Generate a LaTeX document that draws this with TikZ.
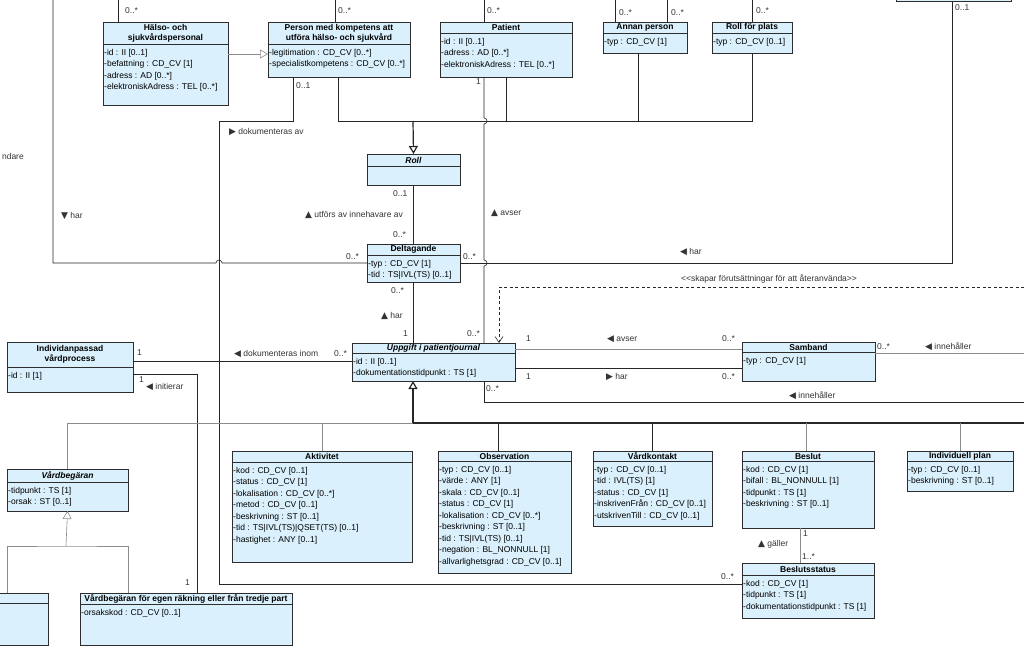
\documentclass[tikz,border=0pt]{standalone}
\usepackage{fontspec}
\setmainfont{Liberation Sans}
\newfontfamily\symf{DejaVu Sans}
\usetikzlibrary{arrows.meta}

\definecolor{klassfill}{RGB}{218,240,252}
\definecolor{klassline}{RGB}{45,45,45}

\newcommand\triL{{\symf\fontsize{9}{9}\selectfont ◀}}
\newcommand\triR{{\symf\fontsize{9}{9}\selectfont ▶}}
\newcommand\triU{{\symf\fontsize{9}{9}\selectfont ▲}}
\newcommand\triD{{\symf\fontsize{9}{9}\selectfont ▼}}

\begin{document}
\begin{tikzpicture}[x=1pt,y=-1pt,font=\fontsize{8.5}{11.5}\selectfont]
\tikzset{
  box/.style={draw=klassline,fill=klassfill,line width=0.7pt,inner sep=0pt,outer sep=0pt,anchor=north west},
  head/.style={font=\fontsize{8.5}{10}\selectfont\bfseries,align=center,inner sep=0pt},
  attr/.style={anchor=north west,align=left,inner xsep=1pt,inner ysep=5pt},
  lbl/.style={text=black!80,inner sep=0pt,anchor=west},
  assoc/.style={draw=black!85,line width=0.6pt},
  assocg/.style={draw=black!45,line width=0.6pt},
  gen/.style={-{Triangle[open,length=8pt,width=9pt,fill=white]}},
  dep/.style={assoc,dash pattern=on 3pt off 2.5pt,-{Straight Barb[length=6pt,width=8pt]}},
}
\newcommand\klass[8]{
  \node[box,minimum width=#4pt,minimum height=#6pt] (#1) at (#2,#3) {};
  \draw[klassline,line width=0.6pt] ([yshift=-#5pt]#1.north west) -- ([yshift=-#5pt]#1.north east);
  \node[head] (#1-t) at ([yshift=-#5pt/2]#1.north) {#7};
  \node[attr] (#1-a) at ([yshift=-#5pt]#1.north west) {#8};
}
\fill[white] (0,0) rectangle (1024,655);
\useasboundingbox (0,0) rectangle (1024,655);

% classes
\node[box,minimum width=115pt,minimum height=30pt] (topbox) at (896,-29) {};
\klass{hals}{103}{22}{125}{22}{83}{Hälso- och\\sjukvårdspersonal}{-id : II [0..1]\\-befattning : CD\_CV [1]\\-adress : AD [0..*]\\-elektroniskAdress : TEL [0..*]}
\klass{person}{268}{22}{142}{22}{55}{Person med kompetens att\\utföra hälso- och sjukvård}{-legitimation : CD\_CV [0..*]\\-specialistkompetens : CD\_CV [0..*]}
\klass{patient}{440}{22}{132}{11}{55}{Patient}{-id : II [0..1]\\-adress : AD [0..*]\\-elektroniskAdress : TEL [0..*]}
\klass{annan}{603}{22}{84}{11}{31}{Annan person}{-typ : CD\_CV [1]}
\klass{rollplats}{712}{22}{80}{11}{31}{Roll för plats}{-typ : CD\_CV [0..1]}
\klass{roll}{367}{154}{93}{12}{31}{\textit{Roll}}{}
\klass{delt}{367}{244}{93}{11}{38}{Deltagande}{-typ : CD\_CV [1]\\-tid : TS|IVL(TS) [0..1]}
\klass{indiv}{7}{342}{126}{25}{50}{Individanpassad\\vårdprocess}{-id : II [1]}
\klass{uppgift}{352}{343}{163}{10}{38}{\textit{Uppgift i patientjournal}}{-id : II [0..1]\\-dokumentationstidpunkt : TS [1]}
\klass{samband}{742}{342}{133}{10}{39}{Samband}{-typ : CD\_CV [1]}
\klass{vbeg}{7}{469}{121}{13}{42}{\textit{Vårdbegäran}}{-tidpunkt : TS [1]\\-orsak : ST [0..1]}
\klass{leftcut}{-30}{593}{78}{10}{52}{}{}
\klass{vbegegen}{80}{593}{212}{11}{52}{Vårdbegäran för egen räkning eller från tredje part}{-orsakskod : CD\_CV [0..1]}
\klass{aktiv}{232}{451}{180}{11}{111}{Aktivitet}{-kod : CD\_CV [0..1]\\-status : CD\_CV [1]\\-lokalisation : CD\_CV [0..*]\\-metod : CD\_CV [0..1]\\-beskrivning : ST [0..1]\\-tid : TS|IVL(TS)|QSET(TS) [0..1]\\-hastighet : ANY [0..1]}
\klass{obs}{438}{451}{133}{10}{122}{Observation}{-typ : CD\_CV [0..1]\\-värde : ANY [1]\\-skala : CD\_CV [0..1]\\-status : CD\_CV [1]\\-lokalisation : CD\_CV [0..*]\\-beskrivning : ST [0..1]\\-tid : TS|IVL(TS) [0..1]\\-negation : BL\_NONNULL [1]\\-allvarlighetsgrad : CD\_CV [0..1]}
\klass{vkont}{593}{451}{119}{10}{75}{Vårdkontakt}{-typ : CD\_CV [0..1]\\-tid : IVL(TS) [1]\\-status : CD\_CV [1]\\-inskrivenFrån : CD\_CV [0..1]\\-utskrivenTill : CD\_CV [0..1]}
\klass{beslut}{742}{451}{132}{10}{77}{Beslut}{-kod : CD\_CV [1]\\-bifall : BL\_NONNULL [1]\\-tidpunkt : TS [1]\\-beskrivning : ST [0..1]}
\klass{indplan}{907}{451}{106}{10}{40}{Individuell plan}{-typ : CD\_CV [0..1]\\-beskrivning : ST [0..1]}
\klass{bstatus}{742}{563}{132}{12}{55}{Beslutsstatus}{-kod : CD\_CV [1]\\-tidpunkt : TS [1]\\-dokumentationstidpunkt : TS [1]}

% free ends at the top border
\foreach \n/\x/\k in {tHals/118/hals, tPers/335/person, tPat/484/patient, tAnA/615/annan, tAnB/667/annan, tRpl/752/rollplats}{
  \coordinate (\n) at (\x,0);
  \draw[assoc] (\n) -- (\n |- \k.north);
}
\coordinate (harA) at (53,0);
\coordinate (busR) at (413,121);
\coordinate (dokA) at (219,121);
\coordinate (depA) at (1024,287);
\coordinate (sbR) at (1024,353);
\coordinate (innR) at (1024,402);
\coordinate (busU) at (413,423);
\coordinate (busUR) at (1024,423);
\coordinate (busV) at (66,546);
\coordinate (xPat) at ([xshift=44pt]patient.south west);
\coordinate (hopP1) at (xPat |- busR);
\coordinate (hopP2) at (xPat |- delt.east);
\coordinate (hopD) at (dokA |- delt.west);

% Roll and its subclasses
\draw[assocg,gen] ([yshift=-32pt]hals.north east) -- ([yshift=-32pt]hals.north east -| person.west);
\draw[assoc] ([xshift=70pt]person.south west) |- (rollplats.south |- busR) -- (rollplats.south);
\draw[assoc] ([xshift=66pt]patient.south west) -- ([xshift=66pt]patient.south west |- busR);
\draw[assoc] ([xshift=35pt]annan.south west) -- ([xshift=35pt]annan.south west |- busR);
\draw[assoc,gen,line width=1.2pt] (busR) -- (roll.north);
\draw[assoc] (roll.south) -- (delt.north);
\draw[assoc] (delt.south) -- (delt.south |- uppgift.north);

% associations
\draw[assoc] ([xshift=25pt]person.south west) |- (dokA) |- ([yshift=-21pt]bstatus.north west);
\draw[assoc] (harA) |- ([xshift=-3pt]hopD) arc[start angle=180,end angle=0,radius=3pt] -- (delt.west);
\draw[assoc] (delt.east) -| ([xshift=56pt]topbox.south west);
\draw[assoc] (xPat) -- ([yshift=3pt]hopP1) arc[start angle=90,end angle=-90,radius=3pt]
  -- ([yshift=3pt]hopP2) arc[start angle=90,end angle=-90,radius=3pt] -- (xPat |- uppgift.north);
\draw[dep] (depA) -| ([xshift=147pt]uppgift.north west);
\draw[assoc] ([yshift=-19pt]indiv.north east) -- ([yshift=-19pt]indiv.north east -| uppgift.west);
\draw[assoc] ([yshift=-32pt]indiv.north east) -| ([xshift=117pt]vbegegen.north west);
\draw[assocg] ([yshift=-6pt]uppgift.north east) -- ([yshift=-6pt]uppgift.north east -| samband.west);
\draw[assoc,line width=1pt] ([yshift=-25pt]uppgift.north east) -- ([yshift=-25pt]uppgift.north east -| samband.west);
\draw[assocg] ([yshift=-11pt]samband.north east) -- ([yshift=-11pt]samband.north east -| sbR);
\draw[assoc] ([xshift=132pt]uppgift.south west) |- (innR);
\draw[assocg] ([xshift=58pt]beslut.south west) -- ([xshift=58pt]bstatus.north west);

% Uppgift i patientjournal and its subclasses
\draw[assoc,line width=1.2pt] (busU) -- (busUR);
\draw[assocg] (busU) -| (vbeg.north);
\draw[assoc,gen,line width=1.2pt] (busU) -- ([xshift=61pt]uppgift.south west);
\draw[assocg] (aktiv.north |- busU) -- (aktiv.north);
\draw[assoc] ([xshift=60pt]obs.north west |- busU) -- ([xshift=60pt]obs.north west);
\draw[assoc] (vkont.north |- busU) -- (vkont.north);
\draw[assocg] ([xshift=64pt]beslut.north west |- busU) -- ([xshift=64pt]beslut.north west);
\draw[assocg] (indplan.north |- busU) -- (indplan.north);
\draw[assocg] ([xshift=37pt]leftcut.north west) |- (busV) -| ([xshift=48pt]vbegegen.north west);
\draw[assocg,gen] (busV) -- (vbeg.south);

% multiplicities
\foreach \t/\x/\y [count=\i] in {{0..*}/125/11, {0..*}/338/11, {0..*}/487/11, {0..*}/619/13,
  {0..*}/671/13, {0..*}/756/11, {0..1}/955/8, {0..1}/296/86, {1}/476/82, {0..1}/393/194,
  {0..*}/393/235, {0..*}/346/257, {0..*}/463/257, {0..*}/391/291, {1}/403/334, {0..*}/467/334,
  {1}/137/353, {0..*}/334/354, {1}/526/339, {0..*}/722/339, {1}/526/377, {0..*}/722/377,
  {0..*}/877/347, {1}/139/380, {0..*}/486/389, {1}/185/583, {0..*}/721/577, {1}/803/534, {1..*}/802/557}
  \node[lbl] (m\i) at (\x,\y) {\t};

% role names
\node[lbl] (rDokAv) at (229,132) {\triR\ dokumenteras av};
\node[lbl,anchor=east] (rAnv) at (24,156) {ndare};
\node[lbl] (rUtf) at (305,215) {\triU\ utförs av innehavare av};
\node[lbl] (rHarV) at (61,216) {\triD\ har};
\node[lbl] (rAvserP) at (491,213) {\triU\ avser};
\node[lbl] (rHarD) at (680,252) {\triL\ har};
\node[lbl,anchor=center] (rSkapar) at (769,279) {{<}{<}skapar förutsättningar för att återanvända{>}{>}};
\node[lbl] (rHarU) at (381,316) {\triU\ har};
\node[lbl] (rDokInom) at (234,354) {\triL\ dokumenteras inom};
\node[lbl] (rAvserS) at (607,339) {\triL\ avser};
\node[lbl] (rHarS) at (606,377) {\triR\ har};
\node[lbl] (rInnS) at (925,347) {\triL\ innehåller};
\node[lbl] (rInit) at (146,387) {\triL\ initierar};
\node[lbl] (rInnU) at (789,396) {\triL\ innehåller};
\node[lbl] (rGaller) at (758,544) {\triU\ gäller};
\end{tikzpicture}
\end{document}
